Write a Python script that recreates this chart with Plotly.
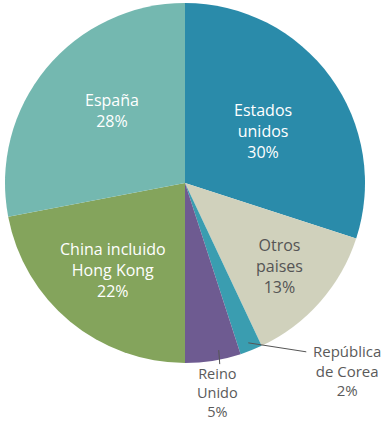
import math
import plotly.graph_objects as go

# Share by country (percent), clockwise from 12 o'clock
countries = ["Estados unidos", "Otros paises", "República de Corea",
             "Reino Unido", "China incluido Hong Kong", "España"]
label_lines = [["Estados", "unidos"], ["Otros", "paises"], ["República", "de Corea"],
               ["Reino", "Unido"], ["China incluido", "Hong Kong"], ["España"]]
shares = [30, 13, 2, 5, 22, 28]
colors = ["#2A8BAA", "#D0D1BC", "#3A9DB0", "#6E5B91", "#84A45C", "#74B8B0"]
text_colors = ["white", "#555555", "#5a5a5a", "#5a5a5a", "white", "white"]

W, H = 386, 423
CX, CY, R = 185, 183, 180  # pie centre and radius in pixels

fig = go.Figure(go.Pie(
    labels=countries,
    values=shares,
    sort=False,
    direction="clockwise",
    rotation=0,
    marker=dict(colors=colors, line=dict(width=0)),
    textinfo="none",
    hoverinfo="label+percent",
    showlegend=False,
    domain=dict(x=[(CX - R) / W, (CX + R) / W],
                y=[(H - CY - R) / H, (H - CY + R) / H]),
))


def px_to_paper(x, y):
    return x / W, (H - y) / H


def polar(frac, r):
    ang = 2 * math.pi * frac
    return CX + r * math.sin(ang), CY - r * math.cos(ang)


total = sum(shares)
mid_fracs = []
acc = 0
for v in shares:
    mid_fracs.append((acc + v / 2) / total)
    acc += v

annotations = []
shapes = []


def add_label(i, cx, cy, size=16):
    text = "<br>".join(label_lines[i] + [f"{shares[i]}%"])
    xp, yp = px_to_paper(cx, cy)
    annotations.append(dict(x=xp, y=yp, xref="paper", yref="paper",
                            xanchor="center", yanchor="middle", align="center",
                            text=text, showarrow=False, borderpad=0,
                            font=dict(family="Open Sans, sans-serif", size=size,
                                      color=text_colors[i])))


def add_line(xa, ya, xb, yb):
    pa = px_to_paper(xa, ya)
    pb = px_to_paper(xb, yb)
    shapes.append(dict(type="line", xref="paper", yref="paper",
                       x0=pa[0], y0=pa[1], x1=pb[0], y1=pb[1],
                       line=dict(color="#555555", width=1)))


# labels inside the larger slices: (fraction of radius, angular nudge in turns)
inside_pos = {0: (0.52, 0.006), 1: (0.70, 0.0), 4: (0.63, 0.0), 5: (0.57, 0.014)}
for i, (f, nudge) in inside_pos.items():
    x, y = polar(mid_fracs[i] + nudge, f * R)
    add_label(i, x, y)

# República de Corea: label outside with leader line
x0, y0 = polar(mid_fracs[2], 0.955 * R)
add_line(x0, y0, x0 + 58, y0 + 9)
add_label(2, x0 + 99, y0 + 28, size=15)

# Reino Unido: label below with short tick
x0, y0 = polar(mid_fracs[3], 0.985 * R)
x0 += 6
add_line(x0, y0 - 8, x0 + 1, y0 + 6)
add_label(3, x0 - 1, y0 + 34, size=14.5)

fig.update_layout(
    width=W, height=H,
    margin=dict(l=0, r=0, t=0, b=0),
    paper_bgcolor="white",
    plot_bgcolor="white",
    annotations=annotations,
    shapes=shapes,
)

fig.write_html("out.html")
